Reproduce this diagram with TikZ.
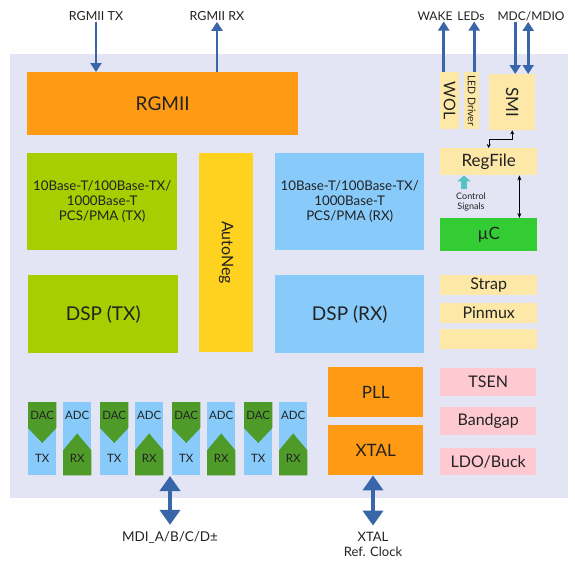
\documentclass[tikz,border=0pt]{standalone}
\usepackage{fontspec}
\setmainfont{Lato}
\usetikzlibrary{arrows.meta}

\definecolor{chipbg}{HTML}{E3E5F5}
\definecolor{orng}{HTML}{FF9A14}
\definecolor{lime}{HTML}{A6CE00}
\definecolor{gold}{HTML}{FFD220}
\definecolor{skyblue}{HTML}{88CBFA}
\definecolor{cream}{HTML}{FDE8A8}
\definecolor{mcgreen}{HTML}{33CC33}
\definecolor{pinkish}{HTML}{FFC9D2}
\definecolor{dacgreen}{HTML}{4F9B2A}
\definecolor{sigblue}{HTML}{3866A8}
\definecolor{ctlteal}{HTML}{55C4C2}
\definecolor{txtdark}{HTML}{222222}

\newcommand\fs[2]{\fontsize{#1}{#2}\selectfont}

\tikzset{
  blk/.style={anchor=north west, inner sep=0pt, align=center, text=txtdark},
  lbl/.style={inner sep=1pt, align=center, text=txtdark},
  lblb/.style={inner sep=6pt, align=center, text=txtdark},
  sig/.style={draw=sigblue, line width=2.6pt, -{Triangle[width=11pt,length=9pt]}},
  bisig/.style={draw=sigblue, line width=2.6pt, {Triangle[width=11pt,length=9pt]}-{Triangle[width=11pt,length=9pt]}},
  bigsig/.style={draw=sigblue, line width=4pt, {Triangle[width=20pt,length=15pt]}-{Triangle[width=20pt,length=15pt]}},
}

\begin{document}
\begin{tikzpicture}[x=1pt, y=-1pt]
  \useasboundingbox (0,0) rectangle (575,565);

  % chip
  \node[blk, fill=chipbg, minimum width=558pt, minimum height=444pt] (chip) at (10,54) {};

  % MAC / PCS / DSP
  \node[blk, fill=orng, minimum width=271pt, minimum height=63pt, font=\fs{19}{19}] (rgmii) at (27,72) {RGMII};

  \node[blk, fill=lime, minimum width=150pt, minimum height=97pt, font=\fs{13.3}{15}] (pcstx) at (27,153)
    {10Base-T/100Base-TX/\\1000Base-T\\PCS/PMA (TX)};
  \node[blk, fill=lime, minimum width=150pt, minimum height=78pt, font=\fs{19}{19}] (dsptx) at (28,275) {DSP (TX)};

  \node[blk, fill=gold, minimum width=54pt, minimum height=199pt] (aneg) at (199,153) {};
  \node[lbl, rotate=-90, font=\fs{16}{16}] (anegt) at (aneg.center) {AutoNeg};

  \node[blk, fill=skyblue, minimum width=149pt, minimum height=97pt, font=\fs{13.3}{15}] (pcsrx) at (275,153)
    {10Base-T/100Base-TX/\\1000Base-T\\PCS/PMA (RX)};
  \node[blk, fill=skyblue, minimum width=149pt, minimum height=78pt, font=\fs{19}{19}] (dsprx) at (275,275) {DSP (RX)};

  % clocking
  \node[blk, fill=orng, minimum width=95pt, minimum height=50pt, font=\fs{17}{17}] (pll) at (328,367) {PLL};
  \node[blk, fill=orng, minimum width=95pt, minimum height=50pt, font=\fs{17}{17}] (xtal) at (328,425) {XTAL};

  % management
  \node[blk, fill=cream, minimum width=19pt, minimum height=57pt] (wol) at (440,72) {};
  \node[lbl, rotate=-90, font=\fs{16}{16}] (wolt) at (wol.center) {WOL};
  \node[blk, fill=cream, minimum width=15pt, minimum height=57pt] (led) at (464,72) {};
  \node[lbl, rotate=-90, font=\fs{10.5}{10.5}] (ledt) at (led.center) {LED Driver};
  \node[blk, fill=cream, minimum width=46pt, minimum height=56pt] (smi) at (489,74) {};
  \node[lbl, rotate=-90, font=\fs{17}{17}] (smit) at (smi.center) {SMI};

  \node[blk, fill=cream, minimum width=97pt, minimum height=27pt, font=\fs{17}{17}] (rf) at (440,148) {RegFile};
  \node[blk, fill=mcgreen, minimum width=97pt, minimum height=33pt, font=\fs{17}{17}] (mcu) at (440,218) {µC};
  \node[blk, fill=cream, minimum width=97pt, minimum height=20pt, font=\fs{16}{16}] (strap) at (440,275) {Strap};
  \node[blk, fill=cream, minimum width=97pt, minimum height=20pt, font=\fs{16}{16}] (pinmux) at (440,303) {Pinmux};
  \node[blk, fill=cream, minimum width=97pt, minimum height=20pt] (spare) at (440,329) {};

  % analog
  \node[blk, fill=pinkish, minimum width=96pt, minimum height=28pt, font=\fs{16}{16}] (tsen) at (440,368) {TSEN};
  \node[blk, fill=pinkish, minimum width=96pt, minimum height=28pt, font=\fs{16}{16}] (bgap) at (440,407) {Bandgap};
  \node[blk, fill=pinkish, minimum width=96pt, minimum height=27pt, font=\fs{16}{16}] (ldo) at (440,448) {LDO/Buck};

  % DAC / ADC lanes
  \foreach \i in {0,...,3} {
    \node[blk, fill=skyblue, minimum width=28pt, minimum height=73pt] (dac\i) at ({28+72*\i},402) {};
    \fill[dacgreen] (dac\i.north west) -- (dac\i.north east) -- ([yshift=-26pt]dac\i.north east)
      -- ([yshift=-41pt]dac\i.north) -- ([yshift=-26pt]dac\i.north west) -- cycle;
    \node[lbl, font=\fs{11.5}{11.5}] (dact\i) at ([yshift=-13pt]dac\i.north) {DAC};
    \node[lbl, font=\fs{11.5}{11.5}] (txt\i) at ([yshift=17pt]dac\i.south) {TX};

    \node[blk, fill=skyblue, minimum width=28pt, minimum height=73pt] (adc\i) at ({63+72*\i},402) {};
    \fill[dacgreen] (adc\i.south west) -- (adc\i.south east) -- ([yshift=25pt]adc\i.south east)
      -- ([yshift=42pt]adc\i.south) -- ([yshift=25pt]adc\i.south west) -- cycle;
    \node[lbl, font=\fs{11.5}{11.5}] (adct\i) at ([yshift=-13pt]adc\i.north) {ADC};
    \node[lbl, font=\fs{11.5}{11.5}] (rxt\i) at ([yshift=17pt]adc\i.south) {RX};
  }

  % internal links
  \draw[{Stealth[length=4pt,width=4pt]}-{Stealth[length=4pt,width=4pt]}, thin]
    (smi.south) -- ++(0,9) -| (rf.north);
  \draw[{Stealth[length=5pt,width=4pt]}-{Stealth[length=5pt,width=4pt]}, semithick]
    ([xshift=-18pt]rf.south east) -- ([xshift=-18pt]rf.south east |- mcu.north);
  \coordinate (ctl) at (464,189);
  \draw[draw=ctlteal, line width=6pt, -{Triangle[width=13pt,length=6pt]}] (ctl) -- (ctl |- rf.south);
  \node[lbl, font=\fs{9}{10}] (ctlt) at (471,202) {Control\\Signals};

  % external pins, top
  \node[lbl, font=\fs{12.5}{12.5}] (ltx) at (96,16) {RGMII TX};
  \node[lbl, font=\fs{12.5}{12.5}] (lrx) at (217,16) {RGMII RX};
  \node[lbl, font=\fs{12}{12}] (lwake) at (435,16) {WAKE};
  \node[lbl, font=\fs{12}{12}] (lleds) at (471,16) {LEDs};
  \node[lbl, font=\fs{12}{12}] (lmdc) at (531,16) {MDC/MDIO};

  \draw[sig] (ltx.south) -- (ltx.south |- rgmii.north);
  \draw[sig] (rgmii.north -| lrx.south) -- (lrx.south);
  \draw[sig] ([xshift=-6pt]wol.north) -- ([xshift=-6pt]wol.north |- lwake.south);
  \draw[sig] ([xshift=2.5pt]led.north) -- ([xshift=2.5pt]led.north |- lleds.south);
  \draw[sig] ([xshift=3pt]smi.north |- lmdc.south) -- ([xshift=3pt]smi.north);
  \draw[bisig] ([xshift=16pt]smi.north |- lmdc.south) -- ([xshift=16pt]smi.north);

  % external pins, bottom
  \coordinate (mdi) at (170,476);
  \node[lblb, font=\fs{13.5}{13.5}] (lmdi) at (170,537) {MDI\_A/B/C/D±};
  \node[lblb, font=\fs{13}{15}] (lxtal) at (373,544) {XTAL\\Ref. Clock};
  \draw[bigsig] (mdi) -- (lmdi.north);
  \draw[bigsig] (xtal.south -| lxtal.north) -- (lxtal.north);
\end{tikzpicture}
\end{document}
